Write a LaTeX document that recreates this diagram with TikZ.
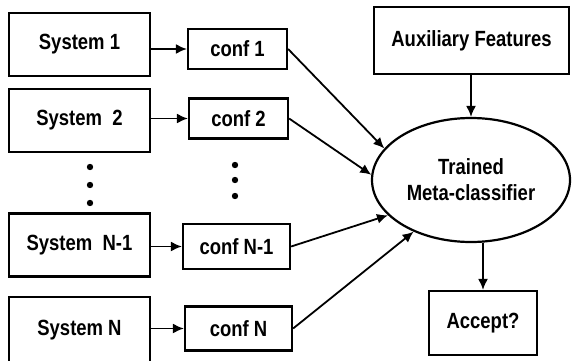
\documentclass[tikz,border=0pt]{standalone}
\usepackage{fontspec}
\setmainfont{Liberation Sans}
\newfontfamily\lblfont{Liberation Sans}[FakeStretch=0.84]
\usepackage{tikz}
\usetikzlibrary{shapes.geometric,arrows.meta}

\begin{document}
\begin{tikzpicture}[x=1pt,y=1pt]
          \tikzstyle{sysbox}=[draw,line width=2.2pt,minimum width=141pt,minimum height=63pt,inner sep=0pt,font=\lblfont\fontsize{22}{25}\selectfont\bfseries]
          \tikzstyle{confbox}=[draw,line width=2.2pt,minimum height=40pt,inner sep=0pt,font=\lblfont\fontsize{22}{25}\selectfont\bfseries]
          \tikzstyle{edge}=[draw,line width=1.8pt,-{Latex[length=11pt,width=10pt]}]
          \useasboundingbox (0,0) rectangle (572,360);
          \node[sysbox] (s1) at (79.5,315.5) {System 1};
          \node[sysbox] (s2) at (79.5,239.5) {System~~2};
          \node[sysbox] (s3) at (79.5,115) {System~~N-1};
          \node[sysbox,minimum height=66pt] (s4) at (79.5,30) {System N};
          \node[confbox,minimum width=99pt] (c1) at (237.5,311) {conf 1};
          \node[confbox,minimum width=99pt] (c2) at (238.5,241.5) {conf 2};
          \node[confbox,minimum width=107pt,minimum height=45pt] (c3) at (236.5,113.5) {conf N-1};
          \node[confbox,minimum width=107pt,minimum height=44pt] (c4) at (238.5,31.5) {conf N};
          \node[sysbox,minimum width=195pt,minimum height=67pt] (aux) at (471.5,319.5) {Auxiliary Features};
          \node[draw,ellipse,line width=2.2pt,minimum width=198pt,minimum height=124pt,inner sep=0pt,align=center,font=\lblfont\fontsize{22}{26}\selectfont\bfseries] (meta) at (471,180) {Trained\\Meta-classifier};
          \node[sysbox,minimum width=108pt,minimum height=64pt] (acc) at (483,37) {Accept?};
          \foreach \y in {157,175,193}
            \fill (90,\y) circle (3.2pt);
          \foreach \y in {164,180,195}
            \fill (235,\y) circle (3.2pt);
          \foreach \i in {1,2,3,4}
            \draw[edge] (s\i.east |- c\i) -- (c\i.west);
          \foreach \i/\a in {1/160,2/177,3/203,4/222}
            \draw[edge] (c\i.east) -- (meta.\a);
          \draw[edge] (aux.south -| meta.north) -- (meta.north);
          \draw[edge] (meta.south -| acc.north) -- (acc.north);
        \end{tikzpicture}
\end{document}
